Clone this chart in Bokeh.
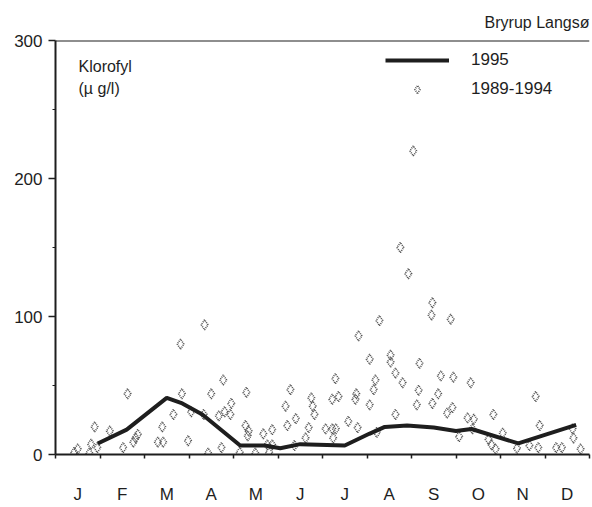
from bokeh.plotting import figure
from bokeh.models import Range1d, FixedTicker, Span, Label, Legend, LegendItem, ColumnDataSource
from bokeh.embed import file_html
from bokeh.resources import INLINE

# ---- data -------------------------------------------------------------
months = ["J", "F", "M", "A", "M", "J", "J", "A", "S", "O", "N", "D"]

# 1995 curve (x = fractional month, 0 = 1 Jan, 12 = 31 Dec)
line_month = [0.95, 1.6, 2.5, 2.85, 3.3, 4.15, 4.7, 5.05, 5.5, 6.5, 7.05, 7.4, 7.9, 8.5, 9.0, 9.35, 10.4, 11.7]
line_value = [8, 18, 41, 37, 29, 6.5, 6.5, 4.5, 7.5, 6.5, 15, 20, 21, 19.5, 17, 18.5, 8, 21.5]

# 1989-1994 observations
obs_month = [
    0.42, 0.5, 0.76, 0.8, 0.94, 0.88, 1.22,
    1.52, 1.62, 1.75, 1.8, 1.85,
    2.3, 2.42, 2.4, 2.65, 2.81, 2.84, 2.98,
    3.05, 3.35, 3.33, 3.43, 3.5, 3.73, 3.77, 3.67, 3.8, 3.93, 3.95,
    4.29, 4.27, 4.34, 4.32, 4.14, 4.49, 4.67, 4.87, 4.76, 4.87, 4.8,
    5.17, 5.21, 5.28, 5.4, 5.37, 5.62, 5.69, 5.75, 5.78, 5.82,
    6.07, 6.22, 6.3, 6.24, 6.22, 6.36, 6.29, 6.58, 6.79, 6.74, 6.76, 6.81,
    7.06, 7.06, 7.15, 7.19, 7.22, 7.28, 7.53, 7.53, 7.64, 7.8, 7.64, 7.75, 7.93, 8.04,
    8.18, 8.16, 8.12, 8.47, 8.45, 8.88, 8.66, 8.94, 8.6, 8.47, 8.8, 8.92,
    9.33, 9.26, 9.4, 9.07, 9.37, 9.84, 9.73, 9.8, 9.89,
    10.05, 10.37, 10.65, 10.85, 10.79, 10.88,
    11.25, 11.38, 11.62, 11.64, 11.8,
]
obs_value = [
    1.5, 4, 1, 7.5, 5, 20, 17,
    5, 44, 9, 12, 14.5,
    9, 9, 20, 29, 80, 44, 10,
    31, 94, 29, 1, 44, 5, 54, 28, 31, 29, 37,
    45, 21, 17, 13.5, 1.5, 1, 15, 18, 7, 7, 1.5,
    35, 21, 47, 26, 6.5, 12, 19.5, 41, 35, 29,
    18.6, 18.6, 18.6, 12, 40, 42, 55, 24, 19.5, 40, 44, 86,
    69, 36, 47, 54, 16, 97, 72, 67, 59, 52, 29, 150, 131, 220,
    66, 46.5, 36, 110, 101, 98, 57, 56, 44, 37, 30, 34,
    52, 26.5, 25.5, 13, 18.6, 29, 11, 7, 4,
    15.5, 4.5, 6.5, 5, 42, 21,
    5, 5, 18.6, 12, 4,
]

y_ticks = [0, 100, 200, 300]
y_minor = [50, 150, 250]

FONT = "Liberation Sans"
INK = "#1e1e1e"

p = figure(width=591, height=506, output_backend="svg", toolbar_location=None,
           x_range=Range1d(0, 12), y_range=Range1d(0, 300),
           min_border_left=55, min_border_right=2, min_border_top=40, min_border_bottom=47,
           title="Bryrup Langsø")
p.title.align = "right"
p.title.text_font = FONT
p.title.text_font_size = "16px"
p.title.text_font_style = "normal"
p.title.text_color = INK
p.title.standoff = 20
p.outline_line_color = None
p.xgrid.grid_line_color = None
p.ygrid.grid_line_color = None
p.background_fill_color = "white"
p.border_fill_color = "white"

# x axis: month letters centred in each month, ticks at month boundaries
xa = p.xaxis[0]
xa.ticker = FixedTicker(ticks=[i + 0.5 for i in range(12)], minor_ticks=list(range(13)))
xa.major_label_overrides = {i + 0.5: m for i, m in enumerate(months)}
xa.major_tick_out = 0
xa.major_tick_in = 0
xa.minor_tick_out = 4
xa.minor_tick_in = 0
xa.minor_tick_line_color = INK
xa.minor_tick_line_width = 1.5
xa.axis_line_color = INK
xa.axis_line_width = 2
xa.major_label_text_font = FONT
xa.major_label_text_font_size = "17px"
xa.major_label_text_color = INK
xa.major_label_standoff = 26

ya = p.yaxis[0]
ya.ticker = FixedTicker(ticks=y_ticks, minor_ticks=y_minor)
ya.major_tick_out = 7
ya.major_tick_in = 0
ya.minor_tick_out = 3
ya.minor_tick_in = 0
ya.major_tick_line_color = INK
ya.minor_tick_line_color = INK
ya.major_tick_line_width = 1.5
ya.axis_line_color = INK
ya.axis_line_width = 2
ya.major_label_text_font = FONT
ya.major_label_text_font_size = "17px"
ya.major_label_text_color = INK
ya.major_label_standoff = 6

# top frame line
p.add_layout(Span(location=300, dimension="width", line_color=INK, line_width=2))

obs_src = ColumnDataSource(dict(x=obs_month, y=obs_value))
line_src = ColumnDataSource(dict(x=line_month, y=line_value))

r_obs = p.scatter("x", "y", source=obs_src, marker="diamond", size=10,
                  fill_color=None, line_color="#555555", line_width=1.6, line_dash="1 1")
r_line = p.line("x", "y", source=line_src, line_color=INK, line_width=4)

legend = Legend(items=[LegendItem(label="1995", renderers=[r_line]),
                       LegendItem(label="1989-1994", renderers=[r_obs])],
                location=(330, 355), orientation="vertical",
                glyph_width=64, glyph_height=20, label_height=20, spacing=9,
                label_standoff=22, padding=0, margin=0,
                border_line_color=None, background_fill_alpha=0,
                label_text_font=FONT, label_text_font_size="17px", label_text_color=INK)
p.add_layout(legend)

p.add_layout(Label(x=0, y=300, x_offset=23, y_offset=-26, text="Klorofyl",
                   text_font=FONT, text_font_size="16px", text_color=INK, text_baseline="middle"))
p.add_layout(Label(x=0, y=300, x_offset=23, y_offset=-48, text="(µ g/l)",
                   text_font=FONT, text_font_size="16px", text_color=INK, text_baseline="middle"))

open("out.html", "w").write(file_html(p, INLINE))
